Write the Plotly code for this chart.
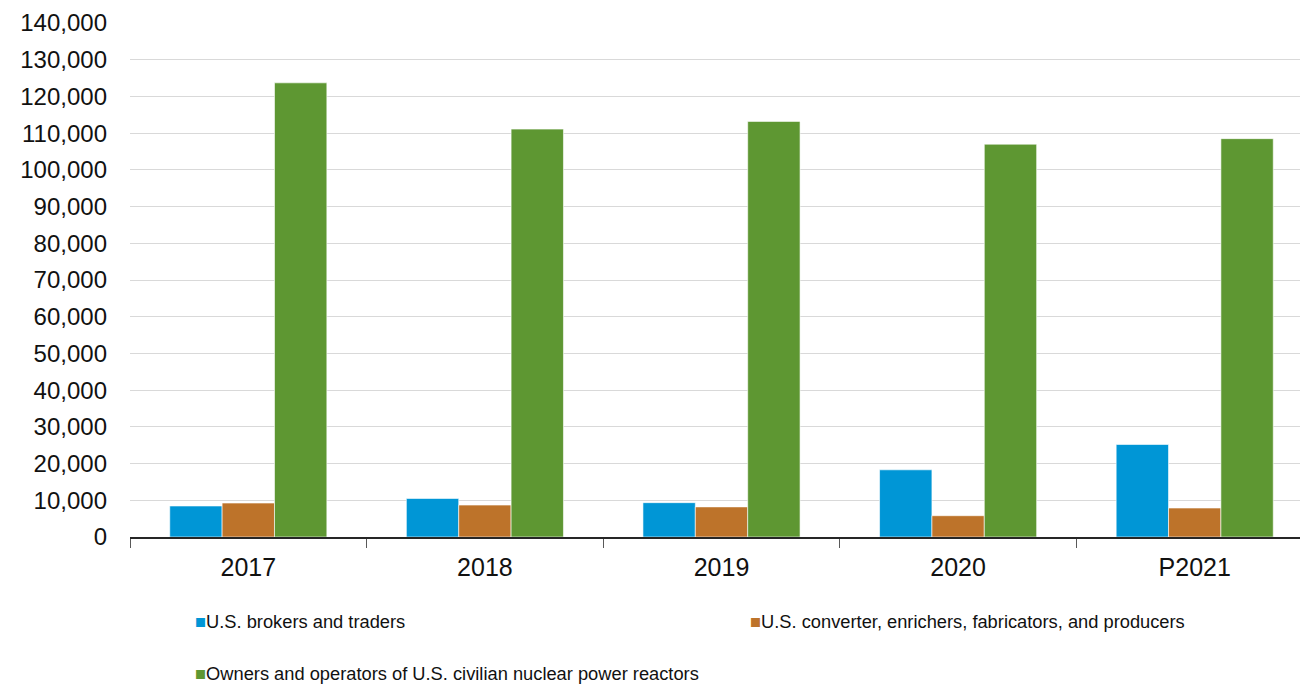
import plotly.graph_objects as go

years = ["2017", "2018", "2019", "2020", "P2021"]
brokers = [8450, 10500, 9350, 18300, 25200]
converters = [9250, 8700, 8200, 5800, 7900]
owners = [123700, 111100, 113200, 107000, 108500]

series_names = [
    "U.S. brokers and traders",
    "U.S. converter, enrichers, fabricators, and producers",
    "Owners and operators of U.S. civilian nuclear power reactors",
]
colors = ["#0096D6", "#BD732A", "#5E9732"]
y_ticks = list(range(0, 140001, 10000))

fig = go.Figure()
for name, vals, col in zip(series_names, [brokers, converters, owners], colors):
    fig.add_trace(go.Bar(
        x=years, y=vals, name=name,
        marker=dict(color=col, line=dict(color="rgba(255,255,255,0.6)", width=1)),
        showlegend=False,
    ))

fig.update_layout(
    width=1300, height=684,
    margin=dict(l=130, r=0, t=23, b=147, autoexpand=False),
    paper_bgcolor="white", plot_bgcolor="white",
    barmode="group", bargap=0.336, bargroupgap=0,
    font=dict(family="Arial, Liberation Sans, sans-serif", color="#111111"),
    xaxis=dict(
        type="category", range=[-0.5, 4.445],
        showline=True, linecolor="#262626", linewidth=1.5,
        ticks="outside", tickson="boundaries", ticklen=9, tickcolor="#595959", tickwidth=1,
        tickfont=dict(size=25, color="#111111"), ticklabelstandoff=7,
        showgrid=False, automargin=False,
    ),
    yaxis=dict(
        range=[0, 140000], tickvals=y_ticks, tickformat=",d",
        showgrid=True, gridcolor="#d9d9d9", gridwidth=1,
        zeroline=False, showline=False,
        tickfont=dict(size=24, color="#111111"), ticklabelstandoff=22,
        automargin=False,
    ),
)

legend_pos = [(0.0538, -0.165), (0.528, -0.165), (0.0538, -0.2665)]
for name, col, (px, py) in zip(series_names, colors, legend_pos):
    fig.add_annotation(
        xref="paper", yref="paper", x=px, y=py, xanchor="left", yanchor="middle",
        text=f"<span style='color:{col}'>■</span>{name}", showarrow=False,
        font=dict(size=18.3, color="#111111", family="Arial, Liberation Sans, sans-serif"),
    )

fig.write_html(
    "out.html",
    config={"displayModeBar": False},
    post_script="document.body.style.margin='0';document.body.style.overflow='hidden';",
)
